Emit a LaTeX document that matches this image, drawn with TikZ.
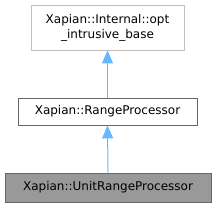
\documentclass[tikz,border=0pt]{standalone}
\usepackage{fontspec}
\setmainfont{DejaVu Sans}
\usetikzlibrary{arrows.meta}
\definecolor{edgeblue}{HTML}{63B8FF}
\definecolor{boxgray}{HTML}{999999}
\definecolor{borderdark}{HTML}{666666}
\definecolor{borderlight}{HTML}{BFBFBF}
\begin{document}
\begin{tikzpicture}[x=1pt,y=-1pt,
  cls/.style={draw=borderdark, line width=0.9pt, inner sep=0pt, font=\fontsize{12}{15}\selectfont, align=center},
  inh/.style={draw=edgeblue, line width=1pt, -{Triangle[length=13pt,width=11pt]}}]
\useasboundingbox (0,0) rectangle (216,207);
\node[cls, draw=borderlight, minimum width=153pt, minimum height=45pt] (base) at (107.5,27.5) {Xapian::Internal::opt\\\_intrusive\_base};
\node[cls, minimum width=179pt, minimum height=27pt] (rp) at (107.5,111.5) {Xapian::RangeProcessor};
\node[cls, fill=boxgray, minimum width=206pt, minimum height=29pt] (urp) at (108,187.5) {Xapian::UnitRangeProcessor};
\draw[inh] (rp.north) -- (base.south);
\draw[inh] (urp.north) -- (rp.south);
\end{tikzpicture}
\end{document}
